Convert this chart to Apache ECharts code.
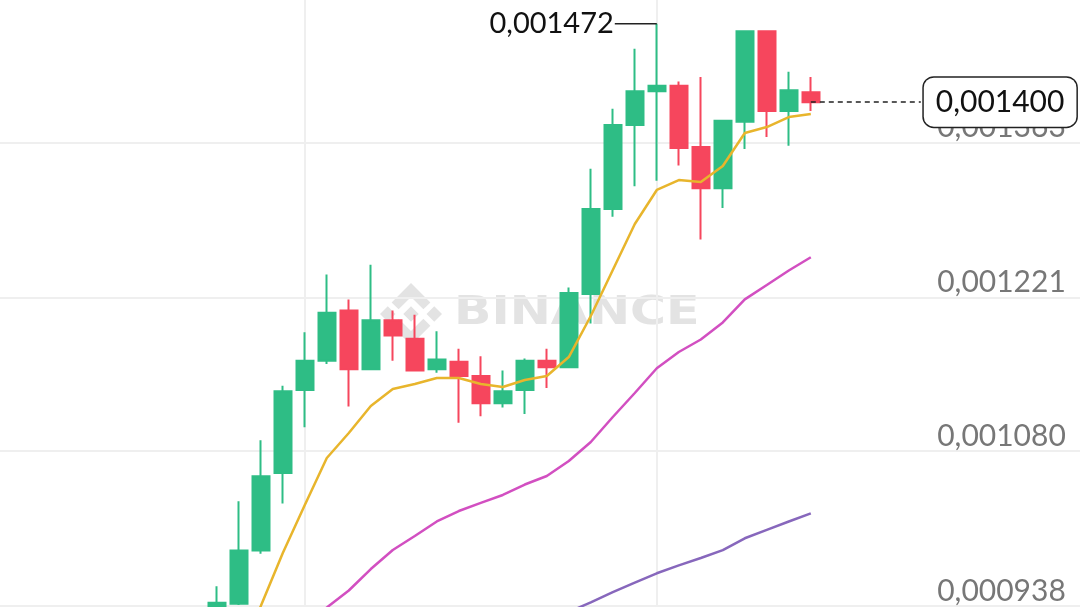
<!DOCTYPE html>
<html>
<head>
<meta charset="utf-8">
<script src="https://cdn.jsdelivr.net/npm/echarts@6.0.0/dist/echarts.min.js"></script>
<style>
  html, body { margin: 0; padding: 0; background: #ffffff; }
  #chart { width: 1080px; height: 607px; }
</style>
</head>
<body>
<div id="chart"></div>
<script>
// ---- category axis (15-minute slots, including empty slots on both sides) ----
const cats = ['04:30','04:45','05:00','05:15','05:30','05:45','06:00','06:15','06:30','06:45',
  '07:00','07:15','07:30','07:45','08:00','08:15','08:30','08:45','09:00','09:15',
  '09:30','09:45','10:00','10:15','10:30','10:45','11:00','11:15','11:30','11:45',
  '12:00','12:15','12:30','12:45','13:00','13:15','13:30','13:45','14:00','14:15',
  '14:30','14:45','15:00','15:15','15:30','15:45','16:00','16:15','16:30','16:45','17:00'];

// times of the visible candles
const candleTimes = ['07:00','07:15','07:30','07:45','08:00','08:15','08:30','08:45','09:00','09:15',
  '09:30','09:45','10:00','10:15','10:30','10:45','11:00','11:15','11:30','11:45',
  '12:00','12:15','12:30','12:45','13:00','13:15','13:30','13:45'];

const openVals  = [0.000930,0.000940,0.000989,0.001060,0.001136,0.001163,0.001209,0.001155,0.001200,0.001183,
  0.001155,0.001162,0.001149,0.001124,0.001136,0.001163,0.001157,0.001224,0.001302,0.001379,
  0.001410,0.001415,0.001359,0.001321,0.001382,0.001465,0.001392,0.001409];
const closeVals = [0.000941,0.000989,0.001057,0.001135,0.001163,0.001207,0.001155,0.001200,0.001186,0.001154,
  0.001164,0.001149,0.001124,0.001135,0.001163,0.001157,0.001225,0.001302,0.001379,0.001410,
  0.001415,0.001358,0.001321,0.001383,0.001465,0.001392,0.001411,0.001400];
const lowVals   = [0.000925,0.000939,0.000986,0.001032,0.001102,0.001160,0.001121,0.001155,0.001163,0.001153,
  0.001152,0.001106,0.001112,0.001120,0.001114,0.001138,0.001156,0.001197,0.001295,0.001323,
  0.001328,0.001342,0.001274,0.001303,0.001357,0.001368,0.001360,0.001392];
const highVals  = [0.000956,0.001034,0.001090,0.001140,0.001189,0.001242,0.001219,0.001251,0.001209,0.001205,
  0.001190,0.001174,0.001167,0.001154,0.001165,0.001174,0.001230,0.001339,0.001394,0.001449,
  0.001472,0.001419,0.001423,0.001384,0.001465,0.001466,0.001428,0.001423];

// moving averages (null = not drawn)
const ma7  = [0.000848,0.000892,0.000938,0.0009866,0.0010306,0.0010737,0.0010966,0.0011214,0.001137,0.0011416,
  0.0011471,0.0011471,0.0011416,0.0011388,0.0011452,0.0011489,0.0011663,0.0012039,0.0012461,0.0012883,
  0.0013195,0.0013286,0.0013268,0.0013415,0.0013717,0.0013772,0.0013864,0.0013892];
const ma25 = [null,null,null,0.000907,0.0009215,0.0009366,0.0009522,0.0009719,0.0009894,0.0010022,
  0.0010155,0.0010251,0.0010325,0.0010398,0.0010494,0.0010572,0.001071,0.0010884,0.0011113,0.0011333,
  0.001156,0.0011709,0.0011824,0.001198,0.0012192,0.0012324,0.0012457,0.0012578];
const ma99 = [null,null,null,null,null,null,null,null,null,null,
  null,null,null,0.000905,0.0009142,0.0009233,0.0009325,0.0009414,0.0009507,0.0009595,
  0.000968,0.0009752,0.000982,0.0009893,0.0010001,0.0010078,0.0010155,0.001023];

// axis
const yTicks = [0.000938, 0.001080, 0.001221, 0.001363];
const yMin = 0.000938, yMax = 0.0014937;
const vGridTimes = ['08:00', '12:00'];
const priceTagTime = '15:00';

const fmt = v => Number(v).toFixed(6).replace('.', ',');

const pos = {};
candleTimes.forEach((t, i) => { pos[t] = i; });
const candleData = cats.map(t => t in pos ? [openVals[pos[t]], closeVals[pos[t]], lowVals[pos[t]], highVals[pos[t]]] : '-');
const lineData = arr => cats.map(t => (t in pos && arr[pos[t]] != null) ? arr[pos[t]] : '-');

const lastI = candleTimes.length - 1;
const lastTime = candleTimes[lastI];
const lastClose = closeVals[lastI];
const maxHigh = Math.max(...highVals);
const maxTime = candleTimes[highVals.indexOf(maxHigh)];

const UP = '#2EBD85', DOWN = '#F6465D';
const FONT = 'Lato';

// simplified watermark logo polygons (unit coordinates)
const logoParts = [
  [[0,-0.25],[0.25,0],[0,0.25],[-0.25,0]],
  [[-0.75,-0.25],[-0.5,0],[-0.75,0.25],[-1,0]],
  [[0.75,-0.25],[1,0],[0.75,0.25],[0.5,0]],
  [[0,-1],[0.625,-0.375],[0.4,-0.15],[0,-0.55],[-0.4,-0.15],[-0.625,-0.375]],
  [[0,1],[0.625,0.375],[0.4,0.15],[0,0.55],[-0.4,0.15],[-0.625,0.375]]
];
const logoCx = 411, logoCy = 314, logoR = 31;
const wmColor = '#e3e3e3';

const chart = echarts.init(document.getElementById('chart'), null, { renderer: 'canvas' });
chart.setOption({
  animation: false,
  backgroundColor: '#ffffff',
  graphic: [
    ...logoParts.map(p => ({
      type: 'polygon', z: 0, silent: true,
      shape: { points: p.map(([x, y]) => [logoCx + x * logoR, logoCy + y * logoR]) },
      style: { fill: wmColor }
    })),
    {
      type: 'text', z: 0, silent: true, x: 454, y: 294, scaleX: 1.26,
      style: { text: 'BINANCE', fill: wmColor, font: 'bold 39px "DejaVu Sans"' }
    }
  ],
  grid: { left: -3.2, width: 1100, top: 0, height: 606, outerBoundsMode: 'none', containLabel: false },
  xAxis: {
    type: 'category',
    data: cats,
    boundaryGap: false,
    axisLine: { show: false },
    axisTick: { show: false },
    axisLabel: { show: false },
    splitLine: {
      show: true,
      interval: (i, v) => vGridTimes.indexOf(v) >= 0,
      lineStyle: { color: '#efefef', width: 2 }
    }
  },
  yAxis: {
    type: 'value',
    position: 'right',
    min: yMin,
    max: yMax,
    axisLine: { show: false },
    axisTick: { show: false, customValues: yTicks },
    axisLabel: {
      show: true,
      customValues: yTicks,
      inside: true,
      margin: 31,
      verticalAlign: 'bottom',
      formatter: v => fmt(v),
      color: '#777777',
      fontFamily: FONT,
      fontSize: 30,
      lineHeight: 30
    },
    splitLine: { show: true, lineStyle: { color: '#efefef', width: 2 } }
  },
  series: [
    {
      type: 'line', name: 'MA7', data: lineData(ma7), symbol: 'none', z: 3,
      lineStyle: { color: '#E8B52C', width: 2.5 }
    },
    {
      type: 'line', name: 'MA25', data: lineData(ma25), symbol: 'none', z: 3,
      lineStyle: { color: '#D24FC1', width: 2.5 }
    },
    {
      type: 'line', name: 'MA99', data: lineData(ma99), symbol: 'none', z: 3,
      lineStyle: { color: '#8767BC', width: 2.5 }
    },
    {
      type: 'candlestick',
      name: 'K',
      z: 2,
      data: candleData,
      barWidth: '77%',
      itemStyle: { color: UP, color0: DOWN, borderColor: UP, borderColor0: DOWN, borderWidth: 2 },
      markPoint: {
        silent: true,
        symbol: 'rect',
        symbolSize: [42, 1.5],
        symbolOffset: [-21, 0],
        itemStyle: { color: '#222222' },
        label: {
          show: true, position: 'left', distance: 1,
          formatter: p => fmt(p.value),
          color: '#111111', fontFamily: FONT, fontSize: 29
        },
        data: [{ coord: [maxTime, maxHigh], value: maxHigh }]
      },
      markLine: {
        silent: true,
        symbol: ['none', 'none'],
        z: 5,
        lineStyle: { color: '#222222', type: [5, 4], width: 1.5 },
        label: {
          show: true, position: 'end', distance: 3,
          formatter: () => fmt(lastClose),
          color: '#111111', fontFamily: FONT, fontSize: 30, lineHeight: 33,
          backgroundColor: '#ffffff', borderColor: '#222222', borderWidth: 1.5,
          borderRadius: 10, padding: [8, 12, 8, 12]
        },
        data: [[{ coord: [lastTime, lastClose] }, { coord: [priceTagTime, lastClose] }]]
      }
    }
  ]
});
</script>
</body>
</html>
